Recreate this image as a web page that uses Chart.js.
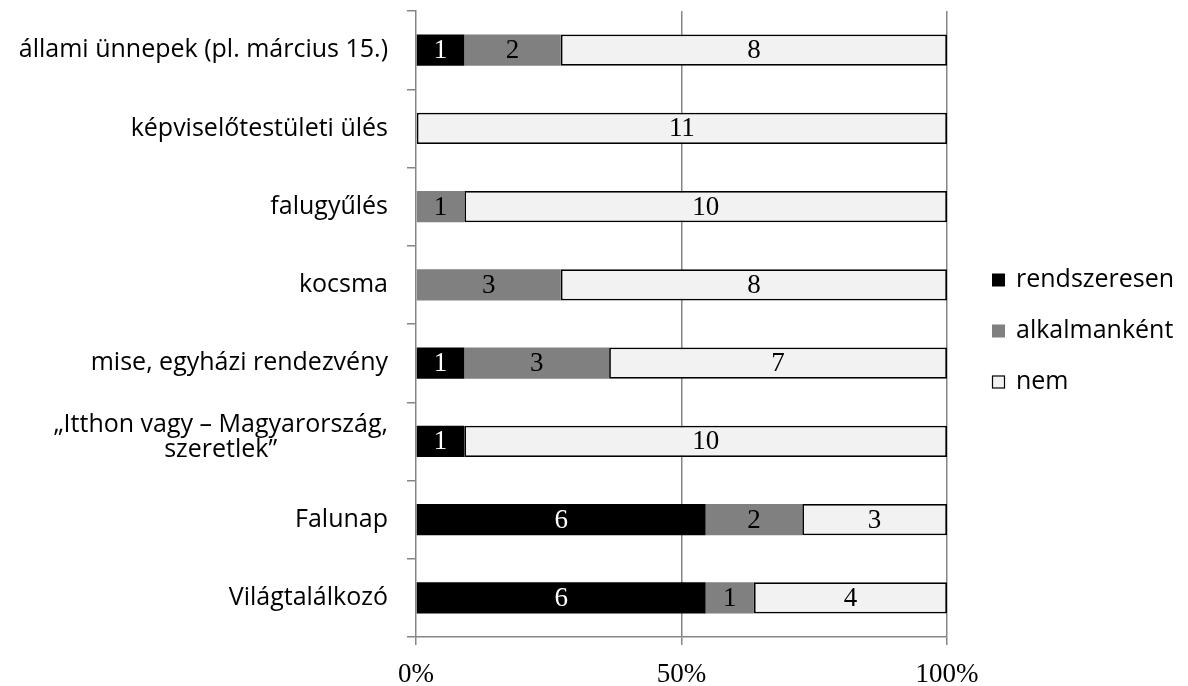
<!DOCTYPE html>
<html>
<head>
<meta charset="utf-8">
<script src="https://cdn.jsdelivr.net/npm/chart.js@4.4.1/dist/chart.umd.min.js"></script>
<style>
  html, body { margin: 0; padding: 0; background: #fff; }
  #wrap { width: 1188px; height: 686px; }
</style>
</head>
<body>
<div id="wrap"><canvas id="chart" width="1188" height="686"></canvas></div>
<script>
const categories = [
    'állami ünnepek (pl. március 15.)',
    'képviselőtestületi ülés',
    'falugyűlés',
    'kocsma',
    'mise, egyházi rendezvény',
    ['„Itthon vagy – Magyarország,', 'szeretlek”'],
    'Falunap',
    'Világtalálkozó',
];
const rendszeresen = [1, 0, 0, 0, 1, 1, 6, 6];
const alkalmankent = [2, 0, 1, 3, 3, 0, 2, 1];
const nem = [8, 11, 10, 8, 7, 10, 3, 4];
const xTicks = [0, 50, 100];

const AXIS_GREY = '#868686';
const SANS = '"Open Sans", Lato, sans-serif';
const SERIF = '"Liberation Serif", "Times New Roman", serif';

const totals = categories.map((_, i) => rendszeresen[i] + alkalmankent[i] + nem[i]);
const toPct = (arr) => arr.map((v, i) => (v / totals[i]) * 100);

const seriesDefs = [
    { label: 'rendszeresen', counts: rendszeresen, fill: '#000000', text: '#ffffff', border: 0 },
    { label: 'alkalmanként', counts: alkalmankent, fill: '#808080', text: '#000000', border: 0 },
    { label: 'nem', counts: nem, fill: '#f2f2f2', text: '#000000', border: 1.8 },
];

// counts inside each segment, hidden when zero
const segmentLabels = {
    id: 'segmentLabels',
    afterDatasetsDraw(chart) {
        const ctx = chart.ctx;
        ctx.save();
        ctx.font = `27px ${SERIF}`;
        ctx.textAlign = 'center';
        ctx.textBaseline = 'middle';
        chart.data.datasets.forEach((ds, di) => {
            const meta = chart.getDatasetMeta(di);
            meta.data.forEach((bar, i) => {
                const n = ds.counts[i];
                if (!n) return;
                const { x, y, base } = bar.getProps(['x', 'y', 'base'], true);
                ctx.fillStyle = ds.textColor;
                ctx.fillText(String(n), (x + base) / 2, y + 1);
            });
        });
        ctx.restore();
    },
};

// category names: single lines right-aligned, wrapped names centred as a block
const categoryLabels = {
    id: 'categoryLabels',
    afterDraw(chart) {
        const ctx = chart.ctx;
        const yScale = chart.scales.y;
        const right = 388;
        const lineH = 25;
        ctx.save();
        ctx.font = `25px ${SANS}`;
        ctx.fillStyle = '#000';
        ctx.textBaseline = 'middle';
        categories.forEach((cat, i) => {
            const cy = yScale.getPixelForTick(i);
            if (Array.isArray(cat)) {
                const widths = cat.map((l) => ctx.measureText(l).width);
                const maxW = Math.max(...widths);
                const cx = right - maxW / 2;
                ctx.textAlign = 'center';
                cat.forEach((line, k) => {
                    ctx.fillText(line, cx, cy - 4 + (k - (cat.length - 1) / 2) * lineH);
                });
            } else {
                ctx.textAlign = 'right';
                ctx.fillText(cat, right, cy);
            }
        });
        ctx.restore();
    },
};

const sideLegend = {
    id: 'sideLegend',
    afterDraw(chart) {
        const ctx = chart.ctx;
        const rows = [280, 331, 382];
        ctx.save();
        ctx.font = `25px ${SANS}`;
        ctx.textBaseline = 'middle';
        ctx.textAlign = 'left';
        chart.data.datasets.forEach((ds, i) => {
            const y = rows[i];
            ctx.fillStyle = ds.backgroundColor;
            ctx.fillRect(992, y - 6.5, 13, 13);
            if (ds.borderWidth) {
                ctx.strokeStyle = '#000';
                ctx.lineWidth = 1.2;
                ctx.strokeRect(992.5, y - 6, 12, 12);
            }
            ctx.fillStyle = '#000';
            ctx.fillText(ds.label, 1016, y);
        });
        ctx.restore();
    },
};

new Chart(document.getElementById('chart'), {
    type: 'bar',
    plugins: [segmentLabels, categoryLabels, sideLegend],
    data: {
        labels: categories,
        datasets: seriesDefs.map((s) => ({
            label: s.label,
            counts: s.counts,
            data: toPct(s.counts),
            backgroundColor: s.fill,
            borderColor: '#000000',
            borderWidth: s.border,
            borderSkipped: false,
            textColor: s.text,
            categoryPercentage: 1,
            barPercentage: 0.4,
        })),
    },
    options: {
        indexAxis: 'y',
        responsive: false,
        animation: false,
        layout: { padding: { top: 11, right: 241, left: 0, bottom: 0 } },
        plugins: {
            legend: { display: false },
            tooltip: { enabled: false },
        },
        scales: {
            x: {
                stacked: true,
                min: 0,
                max: 100,
                afterBuildTicks: (axis) => { axis.ticks = xTicks.map((v) => ({ value: v })); },
                afterFit: (axis) => { axis.height = 49; },
                border: { color: AXIS_GREY, width: 1.5 },
                grid: {
                    color: (c) => (c.tick && c.tick.value === 0 ? 'transparent' : AXIS_GREY),
                    lineWidth: 1.5,
                    drawTicks: true,
                    tickLength: 8,
                    tickColor: AXIS_GREY,
                },
                ticks: {
                    color: '#000',
                    font: { family: SERIF, size: 27 },
                    padding: 14,
                    maxRotation: 0,
                    callback: (v) => v + '%',
                },
            },
            y: {
                stacked: true,
                afterFit: (axis) => { axis.width = 416; },
                border: { color: AXIS_GREY, width: 1.5 },
                grid: {
                    offset: true,
                    drawOnChartArea: false,
                    drawTicks: true,
                    tickLength: 9,
                    color: AXIS_GREY,
                    lineWidth: 1.5,
                },
                ticks: { display: false },
            },
        },
    },
});
</script>
</body>
</html>
